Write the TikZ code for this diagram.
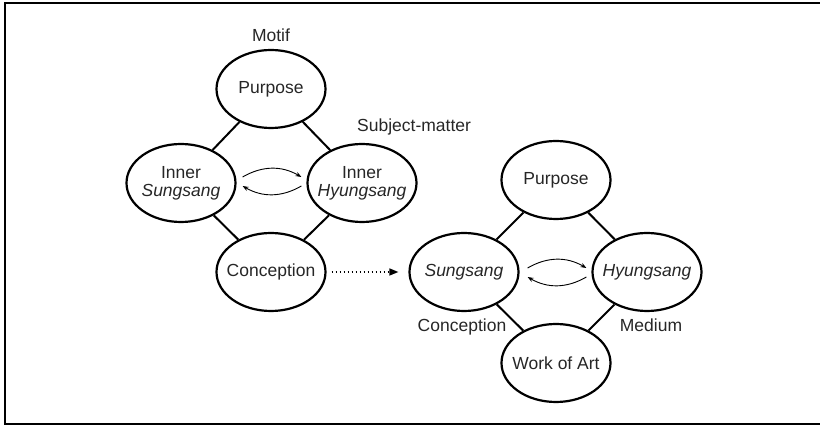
\documentclass[tikz,border=0pt]{standalone}
\usepackage{fontspec}
\setmainfont{Liberation Sans}
\usetikzlibrary{shapes.geometric,arrows.meta,calc}
\newcommand\zw[1]{\makebox[0pt][c]{#1}}
\begin{document}
\begin{tikzpicture}[x=1pt,y=-1pt,
  every node/.style={font=\fontsize{17.5}{20}\selectfont, text=black!85},
  ell/.style={ellipse, draw=black, line width=2.2pt, minimum width=109pt, minimum height=78pt, inner sep=0pt, align=center},
  link/.style={line width=2pt},
  swap/.style={line width=0.9pt, -{Stealth[length=6pt,width=4.5pt]}},
  lbl/.style={anchor=base, inner sep=0pt}]
\useasboundingbox (0,0) rectangle (820,427);
\draw[line width=2pt] (820,3) -- (5,3) -- (5,424) -- (820,424);
% left diagram
\node[ell] (p1) at (271,89) {\zw{Purpose}};
\node[ell] (is) at (181,183) {\zw{Inner}\\[-2pt]\zw{\textit{Sungsang}}};
\node[ell] (ih) at (362,183) {\zw{Inner}\\[-2pt]\zw{\textit{Hyungsang}}};
\node[ell] (c1) at (271,272) {\zw{Conception}};
\node[lbl] (motif) at (271,42) {Motif};
\node[lbl, anchor=base west] (subj) at (357,132) {Subject-matter};
\draw[link] (p1) -- (is);
\draw[link] (p1) -- (ih);
\draw[link] (is) -- (c1);
\draw[link] (ih) -- (c1);
\coordinate (a1) at ($(is.east)+(6,-6)$);
\coordinate (a2) at ($(ih.west)+(-5,-6)$);
\coordinate (a3) at ($(ih.west)+(-5,3)$);
\coordinate (a4) at ($(is.east)+(6,3)$);
\draw[swap] (a1) to[bend left=30] (a2);
\draw[swap] (a3) to[bend left=30] (a4);
% right diagram
\node[ell] (p2) at (556,180) {\zw{Purpose}};
\node[ell] (ss) at (464,272) {\zw{\textit{Sungsang}}};
\node[ell] (hs) at (647,272) {\zw{\textit{Hyungsang}}};
\node[ell] (wa) at (556,363) {\zw{Work of Art}};
\node[lbl] (c2) at (462,332) {Conception};
\node[lbl] (med) at (651,332) {Medium};
\draw[link] (p2) -- (ss);
\draw[link] (p2) -- (hs);
\draw[link] (ss) -- (wa);
\draw[link] (hs) -- (wa);
\coordinate (b1) at ($(ss.east)+(8,-4)$);
\coordinate (b2) at ($(hs.west)+(-5,-4)$);
\coordinate (b3) at ($(hs.west)+(-5,5)$);
\coordinate (b4) at ($(ss.east)+(8,5)$);
\draw[swap] (b1) to[bend left=30] (b2);
\draw[swap] (b3) to[bend left=30] (b4);
% dotted connector
\draw[line width=1.4pt, dash pattern=on 1.6pt off 2.4pt, -{Triangle[length=9pt,width=7pt]}, shorten <=5pt, shorten >=10pt] (c1) -- (ss);
\end{tikzpicture}
\end{document}
